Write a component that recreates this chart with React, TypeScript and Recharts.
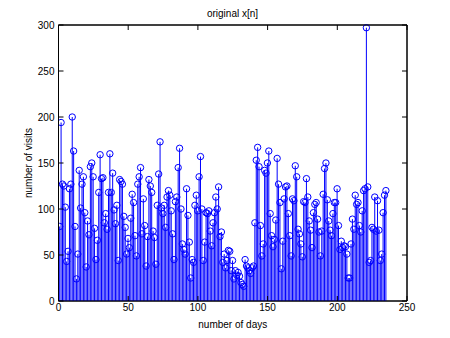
import React from "react";
import { ComposedChart, Bar, Line, XAxis, YAxis, Label, ReferenceArea } from "recharts";

// visits per day (day 1..235)
const visits = [
  81, 194, 127, 125, 102, 43, 54, 122, 127, 200,
  163, 81, 24, 51, 142, 101, 127, 135, 96, 37,
  87, 72, 146, 150, 135, 79, 45, 66, 118, 159,
  133, 134, 85, 95, 78, 118, 160, 118, 139, 99,
  84, 104, 44, 132, 130, 127, 92, 80, 51, 68,
  58, 90, 116, 107, 71, 49, 127, 135, 145, 73,
  111, 82, 38, 70, 132, 125, 118, 76, 69, 40,
  104, 138, 173, 101, 95, 104, 80, 113, 120, 115,
  98, 73, 45, 108, 113, 145, 166, 100, 62, 56,
  51, 122, 93, 64, 25, 45, 42, 104, 115, 98,
  135, 157, 100, 44, 64, 96, 95, 98, 76, 60,
  85, 96, 113, 100, 124, 70, 75, 42, 51, 36,
  44, 55, 54, 33, 44, 24, 33, 28, 31, 27,
  20, 18, 16, 45, 38, 36, 33, 30, 36, 38,
  85, 153, 167, 146, 82, 49, 62, 142, 139, 150,
  163, 95, 71, 59, 67, 88, 155, 127, 107, 35,
  65, 111, 124, 125, 95, 71, 49, 111, 109, 147,
  135, 78, 73, 62, 48, 108, 107, 133, 113, 87,
  77, 58, 96, 105, 107, 89, 75, 49, 76, 116,
  144, 150, 110, 87, 77, 71, 95, 107, 107, 122,
  82, 56, 65, 58, 60, 59, 51, 25, 25, 62,
  89, 78, 115, 105, 107, 82, 75, 98, 120, 122,
  297, 124, 42, 44, 80, 78, 113, 76, 109, 77,
  44, 51, 96, 115, 120,
];

const xTicks = [0, 50, 100, 150, 200, 250];
const yTicks = [0, 50, 100, 150, 200, 250, 300];

const data = visits.map((v, i) => ({ day: i + 1, visits: v }));

const BLUE = "#0000ff";
const FONT = "'Liberation Sans', Arial, sans-serif";
const tickFont = { fontSize: 10, fill: "#000", fontFamily: FONT };

const Stem = (props: any) => {
  const { x, y, width, height } = props;
  const cx = x + width / 2;
  return (
    <g>
      <line x1={cx} x2={cx} y1={y + height} y2={y} stroke={BLUE} strokeWidth={1} />
      <circle cx={cx} cy={y} r={3.2} fill="none" stroke={BLUE} strokeWidth={1} />
    </g>
  );
};

const NoLabel = () => <g />;

export default function App() {
  return (
    <div style={{ position: "absolute", left: 0, top: 0, width: 450, height: 338, background: "#fff" }}>
      <div
        style={{
          position: "absolute", left: 0, width: 465, top: 8, textAlign: "center",
          fontSize: 10, fontFamily: FONT, color: "#000",
        }}
      >
        original x[n]
      </div>
      <ComposedChart
        width={450}
        height={338}
        data={data}
        margin={{ top: 24, right: 42, bottom: 0, left: 0 }}
      >
        <XAxis
          dataKey="day"
          type="number"
          domain={[0, 250]}
          ticks={xTicks}
          interval={0}
          height={37}
          tickSize={-5}
          tickMargin={8}
          stroke="#000"
          tick={tickFont}
          allowDataOverflow
        >
          <Label
            value="number of days"
            position="insideBottom"
            offset={10}
            style={{ fontSize: 10, fontFamily: FONT, fill: "#000" }}
          />
        </XAxis>
        <XAxis
          xAxisId="top"
          dataKey="day"
          type="number"
          orientation="top"
          domain={[0, 250]}
          ticks={xTicks}
          interval={0}
          height={1}
          tickSize={-5}
          tickMargin={0}
          tick={<NoLabel />}
          stroke="#000"
        />
        <YAxis
          type="number"
          domain={[0, 300]}
          ticks={yTicks}
          interval={0}
          width={58.5}
          tickSize={-5}
          tickMargin={9}
          stroke="#000"
          tick={tickFont}
        >
          <Label
            value="number of visits"
            angle={-90}
            position="insideLeft"
            offset={28}
            style={{ fontSize: 10, fontFamily: FONT, fill: "#000", textAnchor: "middle" }}
          />
        </YAxis>
        <YAxis
          yAxisId="right"
          type="number"
          orientation="right"
          domain={[0, 300]}
          ticks={yTicks}
          interval={0}
          width={1}
          tickSize={-5}
          tickMargin={0}
          tick={<NoLabel />}
          stroke="#000"
        />
        <ReferenceArea
          x1={0}
          x2={250}
          y1={0}
          y2={300}
          fill="none"
          stroke="#000"
          strokeWidth={1}
          ifOverflow="visible"
        />
        <Bar dataKey="visits" barSize={1} shape={<Stem />} isAnimationActive={false} />
        {/* invisible series so the top/right frame axes are drawn */}
        <Line
          xAxisId="top"
          yAxisId="right"
          dataKey="visits"
          stroke="none"
          dot={false}
          activeDot={false}
          isAnimationActive={false}
        />
      </ComposedChart>
    </div>
  );
}
